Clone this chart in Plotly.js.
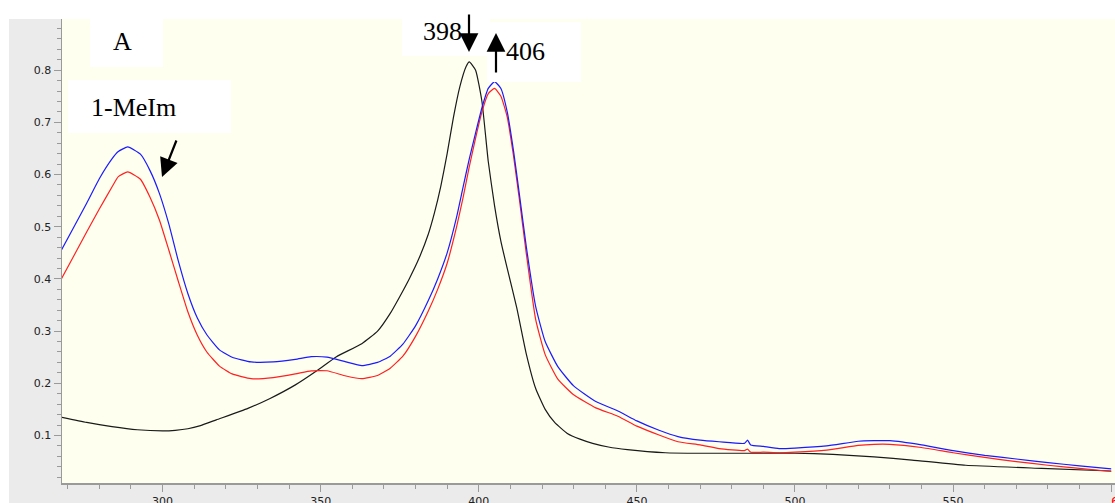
<!DOCTYPE html>
<html>
<head>
<meta charset="utf-8">
<script src="https://cdn.plot.ly/plotly-3.0.1.min.js"></script>
<style>
  html, body { margin: 0; padding: 0; background: #ffffff; }
  #chart { width: 1115px; height: 503px; }
</style>
</head>
<body>
<div id="chart"></div>
<script>
// ---- Data (wavelength in nm, absorbance) ----
const blackWl  = [268, 276, 284, 292, 300, 304, 308, 312, 317, 327, 334, 342, 349, 355, 363, 368, 372, 375, 378, 381, 384, 386, 388, 390, 392, 394, 396, 397, 399, 401, 403, 405, 407, 409, 412, 415, 418, 421, 424, 428, 432, 436, 441, 447, 459, 470, 480, 490, 500, 512, 525, 537, 554, 578, 600];
const blackAbs = [0.135, 0.125, 0.117, 0.111, 0.109, 0.110, 0.113, 0.119, 0.130, 0.152, 0.171, 0.197, 0.225, 0.251, 0.276, 0.300, 0.334, 0.366, 0.400, 0.438, 0.485, 0.527, 0.578, 0.640, 0.710, 0.768, 0.807, 0.816, 0.800, 0.740, 0.625, 0.540, 0.472, 0.420, 0.345, 0.257, 0.190, 0.150, 0.125, 0.104, 0.093, 0.085, 0.078, 0.073, 0.067, 0.066, 0.066, 0.066, 0.066, 0.064, 0.059, 0.053, 0.043, 0.037, 0.032];

const blueWl  = [268, 272, 276, 280, 284, 286, 289, 293, 296, 299, 302, 305, 308, 311, 314, 318, 322, 328, 335, 342, 347, 352, 358, 363, 368, 372, 376, 380, 384, 387, 390, 393, 395, 397, 399, 401, 403, 405, 407, 409, 411, 413, 415, 418, 421, 425, 430, 437, 444, 450, 457, 463, 470, 476, 484, 485, 486, 490, 495, 500, 510, 520, 525, 530, 540, 550, 560, 570, 580, 590, 600];
const blueAbs = [0.455, 0.500, 0.545, 0.592, 0.630, 0.644, 0.653, 0.639, 0.608, 0.564, 0.505, 0.434, 0.372, 0.325, 0.293, 0.264, 0.250, 0.241, 0.241, 0.246, 0.251, 0.250, 0.241, 0.234, 0.240, 0.252, 0.275, 0.310, 0.358, 0.400, 0.450, 0.519, 0.575, 0.630, 0.680, 0.728, 0.765, 0.778, 0.765, 0.720, 0.645, 0.555, 0.463, 0.347, 0.280, 0.232, 0.195, 0.165, 0.147, 0.128, 0.110, 0.098, 0.091, 0.088, 0.085, 0.091, 0.082, 0.079, 0.075, 0.076, 0.080, 0.089, 0.090, 0.090, 0.082, 0.071, 0.062, 0.055, 0.048, 0.042, 0.036];

const redWl  = [268, 272, 276, 280, 284, 286, 289, 293, 296, 299, 302, 305, 308, 311, 314, 318, 322, 328, 335, 342, 347, 352, 358, 363, 368, 372, 376, 380, 384, 387, 390, 393, 395, 397, 399, 401, 403, 405, 407, 409, 411, 413, 415, 418, 421, 425, 430, 437, 444, 450, 457, 463, 470, 476, 484, 485, 486, 490, 495, 500, 510, 520, 525, 530, 540, 550, 560, 570, 580, 590, 600];
const redAbs = [0.400, 0.445, 0.490, 0.534, 0.576, 0.596, 0.605, 0.591, 0.557, 0.513, 0.455, 0.395, 0.337, 0.292, 0.260, 0.233, 0.218, 0.209, 0.211, 0.218, 0.224, 0.224, 0.214, 0.209, 0.215, 0.229, 0.252, 0.290, 0.338, 0.380, 0.430, 0.500, 0.555, 0.615, 0.670, 0.720, 0.755, 0.765, 0.750, 0.710, 0.635, 0.545, 0.450, 0.322, 0.255, 0.208, 0.178, 0.153, 0.137, 0.118, 0.101, 0.088, 0.082, 0.075, 0.071, 0.074, 0.068, 0.068, 0.067, 0.068, 0.072, 0.081, 0.083, 0.083, 0.077, 0.067, 0.058, 0.050, 0.043, 0.037, 0.031];

const xTickVals = [300, 350, 400, 450, 500, 550, 600];
const xTickText = ['300', '350', '400', '450', '500', '550', '&nbsp;&nbsp;&nbsp;&nbsp;&nbsp;&nbsp;<span style="color:#ff0000">600</span>'];
const yTickVals = [0.1, 0.2, 0.3, 0.4, 0.5, 0.6, 0.7, 0.8];
const yTickText = ['0.1', '0.2', '0.3', '0.4', '0.5', '0.6', '0.7', '0.8'];

// ---- Layout helpers (pixel -> paper coordinates) ----
const W = 1115, H = 503;
const M = { l: 62, r: 0, t: 19, b: 20 };
const PW = W - M.l - M.r, PH = H - M.t - M.b;
const px = x => (x - M.l) / PW;
const py = y => (H - M.b - y) / PH;

function line(x, y, color) {
  return { x: x, y: y, type: 'scatter', mode: 'lines',
           line: { color: color, width: 1.2, shape: 'spline', smoothing: 0.45 },
           hoverinfo: 'skip', showlegend: false };
}

const traces = [
  line(blackWl, blackAbs, '#1a1a1a'),
  line(redWl, redAbs, '#ff2020'),
  line(blueWl, blueAbs, '#1a1aff')
];

const boxes = [
  [90, 19, 163, 67],
  [68, 80, 231, 133],
  [402, 19, 490, 56],
  [487, 22, 581, 82]
];

const shapes = [
  // white page strips around the grey frame
  { type: 'rect', xref: 'paper', yref: 'paper', layer: 'below',
    x0: px(0), x1: px(W), y0: py(M.t), y1: py(0), fillcolor: '#ffffff', line: { width: 0 } },
  { type: 'rect', xref: 'paper', yref: 'paper', layer: 'below',
    x0: px(0), x1: px(9), y0: py(H), y1: py(0), fillcolor: '#ffffff', line: { width: 0 } }
].concat(boxes.map(b => ({
  type: 'rect', xref: 'paper', yref: 'paper', layer: 'above',
  x0: px(b[0]), x1: px(b[2]), y0: py(b[3]), y1: py(b[1]),
  fillcolor: '#ffffff', line: { width: 0 }
})));

const serif = { family: 'Liberation Serif, Times New Roman, serif', size: 26, color: '#000' };
function label(text, cx, cy) {
  return { text: text, xref: 'paper', yref: 'paper', x: px(cx), y: py(cy),
           xanchor: 'center', yanchor: 'middle', showarrow: false, font: serif, borderpad: 0 };
}
function arrow(hx, hy, tx, ty) {
  return { text: '', xref: 'paper', yref: 'paper', x: px(hx), y: py(hy),
           ax: tx - hx, ay: ty - hy, showarrow: true, arrowhead: 2, arrowsize: 1.7,
           arrowwidth: 2.2, arrowcolor: '#000', standoff: 0, startstandoff: 0 };
}

const annotations = [
  label('A', 122, 42),
  label('1-MeIm', 133, 107),
  label('398', 442, 31),
  label('406', 525, 51),
  arrow(162, 177, 177, 139),
  arrow(469, 52, 469, 13),
  arrow(496, 33, 496, 74)
];

const tickFont = { family: 'DejaVu Sans, Verdana, sans-serif', size: 11, color: '#222' };

const layout = {
  width: W, height: H,
  margin: M,
  paper_bgcolor: '#ebebeb',
  plot_bgcolor: '#fffff0',
  showlegend: false,
  hovermode: false,
  xaxis: {
    range: [268.2, 601.2], showgrid: false, zeroline: false,
    showline: true, linecolor: '#9a9a9a', linewidth: 1.5,
    tickmode: 'array', tickvals: xTickVals, ticktext: xTickText,
    ticks: 'outside', ticklen: 7, tickcolor: '#9a9a9a', tickwidth: 1,
    tickfont: tickFont, ticklabeloverflow: 'allow',
    minor: { tickmode: 'linear', tick0: 0, dtick: 10, ticks: 'outside', ticklen: 4, tickcolor: '#9a9a9a', tickwidth: 1, showgrid: false }
  },
  yaxis: {
    range: [0.009, 0.898], showgrid: false, zeroline: false,
    showline: true, linecolor: '#9a9a9a', linewidth: 1.5,
    tickmode: 'array', tickvals: yTickVals, ticktext: yTickText,
    ticks: 'outside', ticklen: 7, tickcolor: '#9a9a9a', tickwidth: 1,
    tickfont: tickFont,
    minor: { tickmode: 'linear', tick0: 0, dtick: 0.02, ticks: 'outside', ticklen: 4, tickcolor: '#9a9a9a', tickwidth: 1, showgrid: false }
  },
  shapes: shapes,
  annotations: annotations
};

Plotly.newPlot('chart', traces, layout, { staticPlot: true, displayModeBar: false });
</script>
</body>
</html>
